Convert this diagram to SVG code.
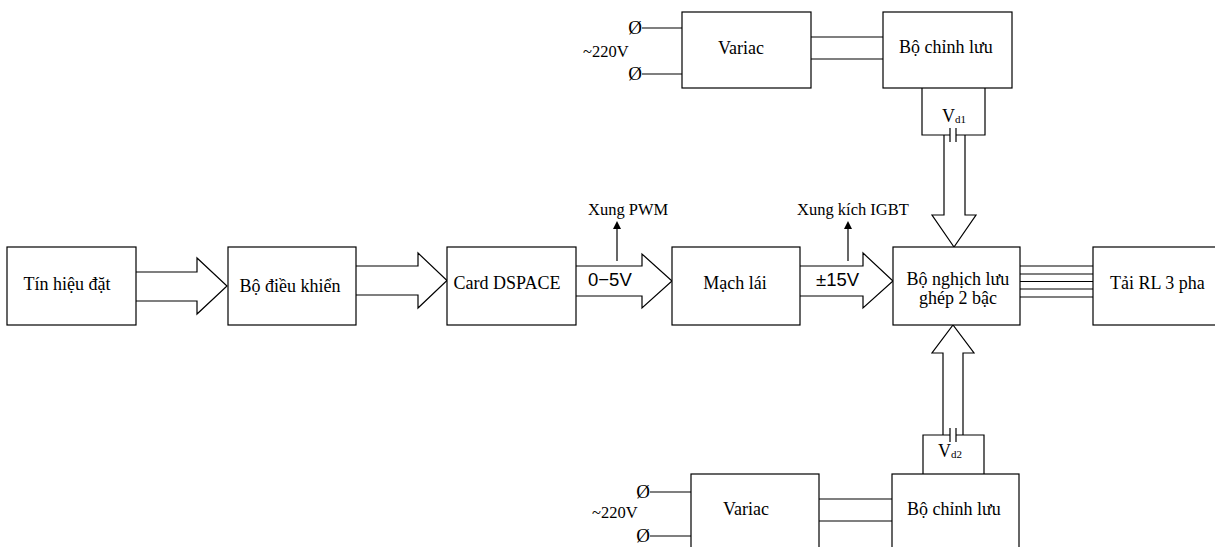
<svg xmlns="http://www.w3.org/2000/svg" width="1215" height="547" viewBox="0 0 1215 547">
<style>
.b{fill:#fff;stroke:#000;stroke-width:1.2}
.l{fill:none;stroke:#000;stroke-width:1.2}
.t{font-family:"Liberation Serif","Times New Roman",serif;font-size:18px;fill:#000}
.s{font-family:"Liberation Serif","Times New Roman",serif;font-size:16.5px;fill:#000}
.o{font-family:"Liberation Serif","Times New Roman",serif;font-size:19px;fill:#000}
.v{font-family:"Liberation Sans",Arial,sans-serif;font-size:18.5px;fill:#000}
.sub{font-size:11px}
</style>
<rect width="1215" height="547" fill="#fff"/>
<g id="connectors">
<polyline class="l" points="136,272 197,272 197,258 227,286 197,314 197,301 136,301"/>
<polyline class="l" points="356,266 418,266 418,253 447,280.5 418,308 418,295 356,295"/>
<polyline class="l" points="576,266 642,266 642,254 672,281 642,308 642,296 576,296"/>
<polyline class="l" points="800,266 863,266 863,253 893,281 863,308 863,296 800,296"/>
<polyline class="l" points="944,135 944,215 932,215 954,247 976,215 965,215 965,135"/>
<polyline class="l" points="943,435 943,353 932,353 953,325 974,353 963,353 963,435"/>
<path class="l" d="M922,88 V135 H950 M950,128 V142 M956,128 V142 M956,135 H985 V88"/>
<path class="l" d="M923,474 V435 H950 M950,428 V442 M956,428 V442 M956,435 H984 V474"/>
<path class="l" d="M811,37 H883 M811,59 H883"/>
<path class="l" d="M819,499 H892 M819,521 H892"/>
<path class="l" d="M642,28 H682 M642,74 H682"/>
<path class="l" d="M650,492 H691 M650,536 H691"/>
<path class="l" d="M1020,266 H1093 M1020,274 H1093 M1020,281.5 H1093 M1020,289 H1093 M1020,297 H1093"/>
<path class="l" d="M617,261 V228"/>
<polygon points="617,221 613,229 621,229" fill="#000"/>
<path class="l" d="M848,261 V228"/>
<polygon points="848,221 844,229 852,229" fill="#000"/>
</g>
<g id="n-tinhieu">
<rect class="b" x="7" y="247" width="129" height="78"/>
<text class="t" x="67" y="290" text-anchor="middle">Tín hiệu đặt</text>
</g>
<g id="n-dieukhien">
<rect class="b" x="228" y="247" width="128" height="78"/>
<text class="t" x="290" y="292" text-anchor="middle">Bộ điều khiển</text>
</g>
<g id="n-dspace">
<rect class="b" x="447" y="247" width="129" height="78"/>
<text class="t" x="507" y="289" text-anchor="middle">Card DSPACE</text>
</g>
<g id="n-machlai">
<rect class="b" x="672" y="247" width="128" height="78"/>
<text class="t" x="735" y="289" text-anchor="middle">Mạch lái</text>
</g>
<g id="n-nghichluu">
<rect class="b" x="893" y="247" width="127" height="78"/>
<text class="t" x="958" y="285" text-anchor="middle">Bộ nghịch lưu</text>
<text class="t" x="958" y="304" text-anchor="middle">ghép 2 bậc</text>
</g>
<g id="n-tai">
<rect class="b" x="1093" y="247" width="130" height="78"/>
<text class="t" x="1110" y="289">Tải RL 3 pha</text>
</g>
<g id="n-variac-top">
<rect class="b" x="682" y="12" width="129" height="76"/>
<text class="t" x="741" y="54" text-anchor="middle">Variac</text>
</g>
<g id="n-chinhluu-top">
<rect class="b" x="883" y="12" width="129" height="76"/>
<text class="t" x="946" y="53" text-anchor="middle">Bộ chỉnh lưu</text>
</g>
<g id="n-variac-bot">
<rect class="b" x="691" y="474" width="128" height="90"/>
<text class="t" x="746" y="515" text-anchor="middle">Variac</text>
</g>
<g id="n-chinhluu-bot">
<rect class="b" x="892" y="474" width="127" height="90"/>
<text class="t" x="954" y="515" text-anchor="middle">Bộ chỉnh lưu</text>
</g>
<g id="labels">
<text class="o" x="635" y="34" text-anchor="middle">Ø</text>
<text class="o" x="635" y="80" text-anchor="middle">Ø</text>
<text class="s" x="583" y="57">~220V</text>
<text class="o" x="643" y="498" text-anchor="middle">Ø</text>
<text class="o" x="643" y="542" text-anchor="middle">Ø</text>
<text class="s" x="592" y="518">~220V</text>
<text class="t" x="942" y="122">V<tspan class="sub" dy="1">d1</tspan></text>
<text class="t" x="938" y="457">V<tspan class="sub" dy="1">d2</tspan></text>
<text class="s" x="588" y="215">Xung PWM</text>
<text class="s" x="797" y="215">Xung kích IGBT</text>
<text class="v" x="588" y="286">0−5V</text>
<text class="v" x="816" y="286">±15V</text>
</g>
</svg>
